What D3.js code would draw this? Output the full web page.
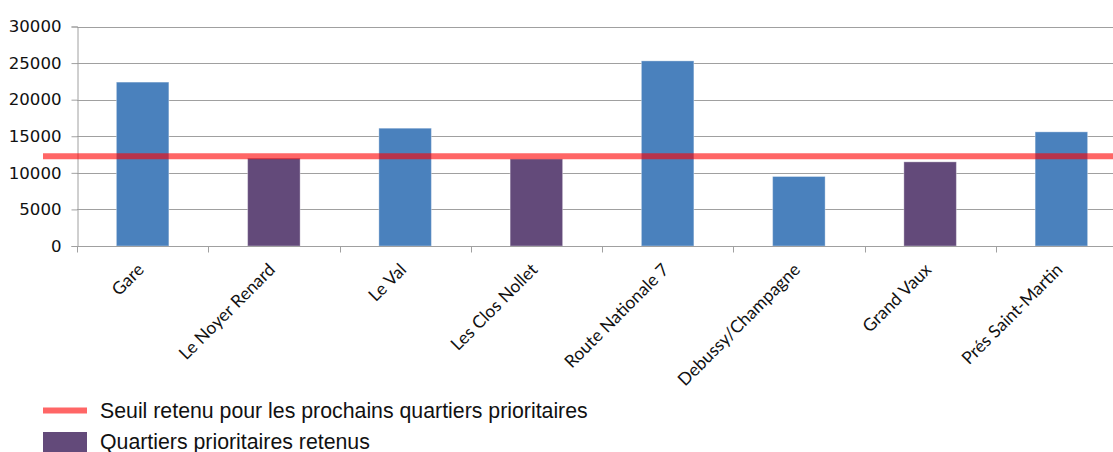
<!DOCTYPE html>
<html>
<head>
<meta charset="utf-8">
<script src="https://cdn.jsdelivr.net/npm/d3@7/dist/d3.min.js"></script>
<style>
  html, body { margin: 0; padding: 0; background: #fff; }
  svg { display: block; }
</style>
</head>
<body>
<svg id="chart" width="1113" height="452"></svg>
<script>
// Population par quartier
const quartiers = ["Gare", "Le Noyer Renard", "Le Val", "Les Clos Nollet",
  "Route Nationale 7", "Debussy/Champagne", "Grand Vaux", "Prés Saint-Martin"];
const population = [22400, 12000, 16100, 11900, 25300, 9500, 11500, 15600];
const retenus = [false, true, false, true, false, false, true, false];
const seuil = 12250;
const yTicks = [0, 5000, 10000, 15000, 20000, 25000, 30000];
const legendLabels = ["Seuil retenu pour les prochains quartiers prioritaires",
  "Quartiers prioritaires retenus"];

const colors = { normal: "#4a81bd", retenu: "#634a7a", seuil: "#ff0000", grid: "#a0a0a0" };

const svg = d3.select("#chart");
const margin = { left: 77, top: 26.5, right: -14, bottom: 206 };
const W = 1113, H = 452;

const x = d3.scaleBand()
  .domain(quartiers)
  .range([margin.left, W - margin.right])
  .paddingInner(0.6)
  .paddingOuter(0.3);

const y = d3.scaleLinear()
  .domain([0, 30000])
  .range([H - margin.bottom, margin.top]);

// grid lines
svg.append("g")
  .selectAll("line")
  .data(yTicks.filter(d => d > 0))
  .join("line")
  .attr("x1", margin.left).attr("x2", W)
  .attr("y1", d => Math.round(y(d)) + 0.5).attr("y2", d => Math.round(y(d)) + 0.5)
  .attr("stroke", colors.grid).attr("stroke-width", 1);

// y axis
const yAxis = svg.append("g")
  .attr("transform", `translate(${margin.left + 0.5},0)`)
  .call(d3.axisLeft(y).tickValues(yTicks).tickSize(6).tickPadding(10).tickFormat(d3.format("d")));
yAxis.select(".domain").attr("stroke", colors.grid);
yAxis.selectAll(".tick line").attr("stroke", colors.grid);
yAxis.selectAll("text")
  .attr("fill", "#111")
  .style("font-family", "'DejaVu Sans', sans-serif")
  .style("font-size", "16.6px");

// bars
svg.append("g")
  .selectAll("rect")
  .data(quartiers.map((q, i) => ({ q, v: population[i], r: retenus[i] })))
  .join("rect")
  .attr("x", d => x(d.q))
  .attr("width", x.bandwidth())
  .attr("y", d => y(d.v))
  .attr("height", d => y(0) - y(d.v))
  .attr("fill", d => d.r ? colors.retenu : colors.normal)
  .attr("stroke", "#ffffff").attr("stroke-opacity", 0.35).attr("stroke-width", 1);

// x axis with ticks between categories
const step = x.step();
const xAxisG = svg.append("g").attr("transform", `translate(0,${Math.round(y(0)) + 0.5})`);
xAxisG.append("line")
  .attr("x1", margin.left).attr("x2", W)
  .attr("stroke", colors.grid);
xAxisG.selectAll("line.tk")
  .data(d3.range(quartiers.length + 1))
  .join("line").attr("class", "tk")
  .attr("x1", i => Math.round(margin.left + i * step) + 0.5)
  .attr("x2", i => Math.round(margin.left + i * step) + 0.5)
  .attr("y1", 0).attr("y2", 6)
  .attr("stroke", colors.grid);
xAxisG.selectAll("text")
  .data(quartiers)
  .join("text")
  .attr("transform", d => `translate(${x(d) + x.bandwidth() / 2 - 2},20) rotate(-45)`)
  .attr("text-anchor", "end")
  .attr("dy", "0.35em")
  .attr("fill", "#111")
  .style("font-family", "Lato, 'Open Sans', sans-serif")
  .style("font-size", "17.5px")
  .text(d => d);

// threshold line
svg.append("line")
  .attr("x1", 43).attr("x2", W)
  .attr("y1", y(seuil)).attr("y2", y(seuil))
  .attr("stroke", colors.seuil).attr("stroke-opacity", 0.6).attr("stroke-width", 6);

// legend
const legend = svg.append("g").attr("transform", "translate(43,0)");
legend.append("line")
  .attr("x1", 0).attr("x2", 44).attr("y1", 410.5).attr("y2", 410.5)
  .attr("stroke", colors.seuil).attr("stroke-opacity", 0.6).attr("stroke-width", 6);
legend.append("rect")
  .attr("x", 0).attr("y", 432).attr("width", 44).attr("height", 22)
  .attr("fill", colors.retenu);
legend.selectAll("text")
  .data(legendLabels)
  .join("text")
  .attr("x", 57)
  .attr("y", (d, i) => 410.5 + i * 31)
  .attr("dy", "0.35em")
  .attr("fill", "#111")
  .style("font-family", "'Liberation Sans', Arial, sans-serif")
  .style("font-size", "21.3px")
  .text(d => d);
</script>
</body>
</html>
